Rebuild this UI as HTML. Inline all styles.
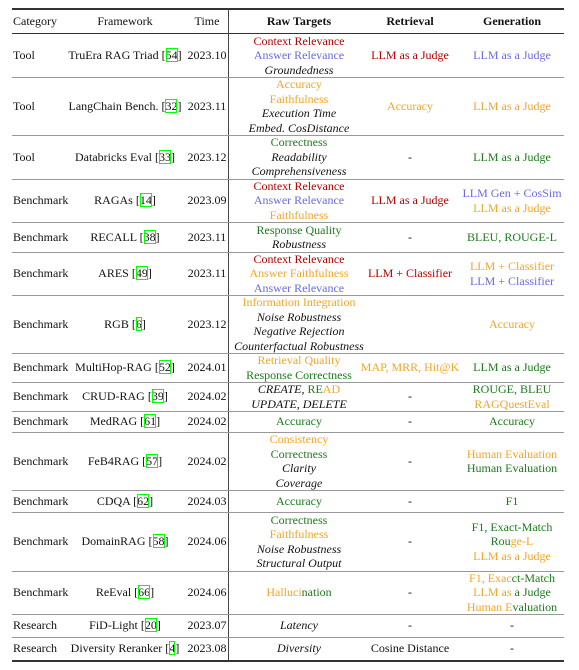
<!DOCTYPE html>
<html><head><meta charset="utf-8"><style>
body{margin:0;width:579px;height:670px;background:#fff;font-family:"Liberation Serif",serif;font-size:12px;color:#111;position:relative;overflow:hidden}
.rule{position:absolute;left:12px;width:552px;background:#333}
.sep{position:absolute;left:12px;width:552px;height:1px;background:#999}
.vl{position:absolute;left:228px;top:8px;width:1px;height:652px;background:#444}
.c{position:absolute;display:flex;flex-direction:column;justify-content:center;line-height:14.5px;white-space:nowrap}
.cat{left:13px;width:80px}
.fw{left:66px;width:118px;align-items:center}
.tm{left:186px;width:42px;align-items:center}
.rt{left:229px;width:140px;align-items:center}
.re{left:360px;width:100px;align-items:center}
.ge{left:460px;width:104px;align-items:center}
.h{font-weight:bold}
.r{color:#b30000}.b{color:#6a6ae0}.o{color:#f2a527}.g{color:#1c7a1c}i{font-style:italic}
.ref{outline:1.3px solid #0f0;outline-offset:-1px}
</style></head><body>
<div class="rule" style="top:8px;height:1.5px"></div>
<div class="rule" style="top:33px;height:1px"></div>
<div class="rule" style="top:660px;height:1.5px"></div>
<div class="vl"></div>
<div id="t"></div>
<script>
const rows=[[34,77],[77,135],[135,179],[179,222],[222,252],[252,295],[295,353],[353,382],[382,411],[411,432],[432,490],[490,512],[512,571],[571,614],[614,637],[637,660]];
const cells=[
['Tool','TruEra RAG Triad [<span class="ref">54</span>]','2023.10','<span class="r">Context Relevance</span><span class="b">Answer Relevance</span><i>Groundedness</i>','<span class="r">LLM as a Judge</span>','<span class="b">LLM as a Judge</span>'],
['Tool','LangChain Bench. [<span class="ref">32</span>]','2023.11','<span class="o">Accuracy</span><span class="o">Faithfulness</span><i>Execution Time</i><i>Embed. CosDistance</i>','<span class="o">Accuracy</span>','<span class="o">LLM as a Judge</span>'],
['Tool','Databricks Eval [<span class="ref">33</span>]','2023.12','<span class="g">Correctness</span><i>Readability</i><i>Comprehensiveness</i>','-','<span class="g">LLM as a Judge</span>'],
['Benchmark','RAGAs [<span class="ref">14</span>]','2023.09','<span class="r">Context Relevance</span><span class="b">Answer Relevance</span><span class="o">Faithfulness</span>','<span class="r">LLM as a Judge</span>','<span class="b">LLM Gen + CosSim</span><span class="o">LLM as a Judge</span>'],
['Benchmark','RECALL [<span class="ref">38</span>]','2023.11','<span class="g">Response Quality</span><i>Robustness</i>','-','<span class="g">BLEU, ROUGE-L</span>'],
['Benchmark','ARES [<span class="ref">49</span>]','2023.11','<span class="r">Context Relevance</span><span class="o">Answer Faithfulness</span><span class="b">Answer Relevance</span>','<span class="r">LLM + Classifier</span>','<span class="o">LLM + Classifier</span><span class="b">LLM + Classifier</span>'],
['Benchmark','RGB [<span class="ref">6</span>]','2023.12','<span class="o">Information Integration</span><i>Noise Robustness</i><i>Negative Rejection</i><i>Counterfactual Robustness</i>','','<span class="o">Accuracy</span>'],
['Benchmark','MultiHop-RAG [<span class="ref">52</span>]','2024.01','<span class="o">Retrieval Quality</span><span class="g">Response Correctness</span>','<span class="o">MAP, MRR, Hit@K</span>','<span class="g">LLM as a Judge</span>'],
['Benchmark','CRUD-RAG [<span class="ref">39</span>]','2024.02','<span><i>CREATE</i>, <span class="g">RE</span><span class="o">AD</span></span><i>UPDATE, DELETE</i>','-','<span class="g">ROUGE, BLEU</span><span class="o">RAGQuestEval</span>'],
['Benchmark','MedRAG [<span class="ref">61</span>]','2024.02','<span class="g">Accuracy</span>','-','<span class="g">Accuracy</span>'],
['Benchmark','FeB4RAG [<span class="ref">57</span>]','2024.02','<span class="o">Consistency</span><span class="g">Correctness</span><i>Clarity</i><i>Coverage</i>','-','<span class="o">Human Evaluation</span><span class="g">Human Evaluation</span>'],
['Benchmark','CDQA [<span class="ref">62</span>]','2024.03','<span class="g">Accuracy</span>','-','<span class="g">F1</span>'],
['Benchmark','DomainRAG [<span class="ref">58</span>]','2024.06','<span class="g">Correctness</span><span class="o">Faithfulness</span><i>Noise Robustness</i><i>Structural Output</i>','-','<span class="g">F1, Exact-Match</span><span><span class="g">Rou</span><span class="o">ge-L</span></span><span class="o">LLM as a Judge</span>'],
['Benchmark','ReEval [<span class="ref">66</span>]','2024.06','<span><span class="o">Halluci</span><span class="g">nation</span></span>','-','<span><span class="o">F1, Exac</span><span class="g">ct-Match</span></span><span><span class="o">LLM as</span><span class="g"> a Judge</span></span><span><span class="o">Human E</span><span class="g">valuation</span></span>'],
['Research','FiD-Light [<span class="ref">20</span>]','2023.07','<i>Latency</i>','-','-'],
['Research','Diversity Reranker [<span class="ref">4</span>]','2023.08','<i>Diversity</i>','Cosine Distance','-']];
const header=['Category','Framework','Time','Raw Targets','Retrieval','Generation'];
const cls=['cat','fw','tm','rt','re','ge'];
const names=['category','framework','time','raw-targets','retrieval','generation'];
const t=document.getElementById('t');
function cell(top,h,k,html,bold,rn){const d=document.createElement('div');d.className='c '+cls[k]+(bold?' h':'');d.style.top=top+'px';d.style.height=h+'px';
d.innerHTML=(k<3||k==4)?'<span>'+html+'</span>':html;


t.appendChild(d);}
header.forEach((s,k)=>cell(9,24,k,s,k>=3,'header'));
rows.forEach((r,i)=>{cells[i].forEach((s,k)=>cell(r[0],r[1]-r[0],k,s,false,'row-'+(i+1)));
if(i<rows.length-1){const l=document.createElement('div');l.className='sep';l.style.top=r[1]+'px';


t.appendChild(l);}});
</script>
</body></html>
